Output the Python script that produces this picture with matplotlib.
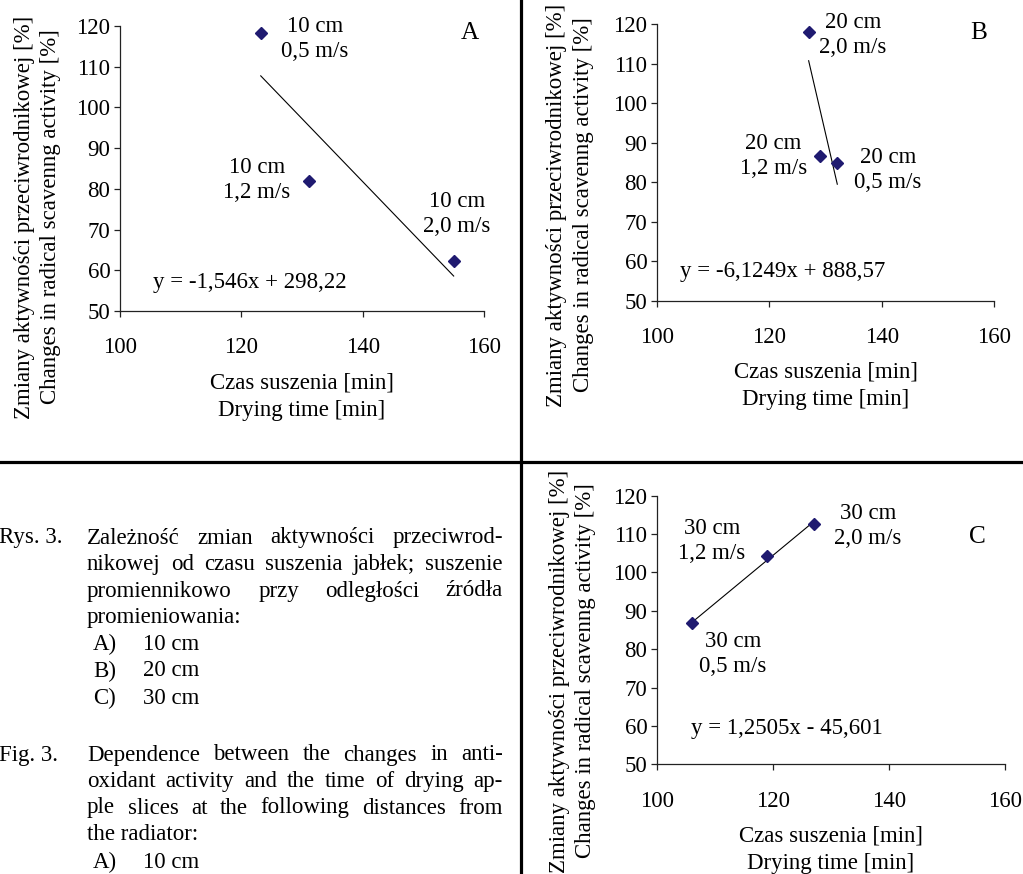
import numpy as np
import matplotlib
matplotlib.use("Agg")
import matplotlib.pyplot as plt

plt.rcParams['font.family'] = ['Liberation Serif', 'DejaVu Serif']
FS = 16.5

# data
time_a = [123.2, 131.2, 155.0]
act_a = [118.4, 81.9, 62.2]
lab_a = ["10 cm\n0,5 m/s", "10 cm\n1,2 m/s", "10 cm\n2,0 m/s"]
fit_a = (-1.546, 298.22)

time_b = [127.0, 129.0, 132.1]
act_b = [117.9, 86.5, 84.8]
lab_b = ["20 cm\n2,0 m/s", "20 cm\n1,2 m/s", "20 cm\n0,5 m/s"]
fit_b = (-6.1249, 888.57)

time_c = [106.0, 119.0, 127.0]
act_c = [86.7, 104.3, 112.7]
lab_c = ["30 cm\n0,5 m/s", "30 cm\n1,2 m/s", "30 cm\n2,0 m/s"]
fit_c = (1.2505, -45.601)

eq_a = "y = -1,546x + 298,22"
eq_b = "y = -6,1249x + 888,57"
eq_c = "y = 1,2505x - 45,601"

xticks = [100, 120, 140, 160]
yticks = [50, 60, 70, 80, 90, 100, 110, 120]

ylab = "Zmiany aktywności przeciwrodnikowej [%]\nChanges in radical scavenng activity [%]"
xlab = "Czas suszenia [min]\nDrying time [min]"

W, H = 1023, 874
fig = plt.figure(figsize=(W / 100, H / 100), dpi=100)


def px_axes(l, t, r, b):
    return fig.add_axes([l / W, 1 - b / H, (r - l) / W, (b - t) / H])


def panel(ax, x, y, fit, eq, labels, lab_pos, eq_pos, letter, letter_pos):
    ax.set_xlim(100, 160)
    ax.set_ylim(50, 120)
    ax.set_xticks(xticks)
    ax.set_yticks(yticks)
    for s in ['top', 'right']:
        ax.spines[s].set_visible(False)
    for s in ['left', 'bottom']:
        ax.spines[s].set_linewidth(0.9)
        ax.spines[s].set_color('#222222')
    ax.tick_params(axis='both', direction='out', length=4, width=0.9,
                   color='#222222', labelsize=FS)
    ax.tick_params(axis='x', pad=15)
    ax.tick_params(axis='y', pad=3)
    ax.patch.set_alpha(0)
    ax.plot(x, y, 'D', ms=6, color='#1f1a70', clip_on=False, zorder=3)
    xs = np.array([min(x), max(x)])
    ax.plot(xs, fit[0] * xs + fit[1], color='black', lw=0.8)
    for t, p in zip(labels, lab_pos):
        ax.text(p[0], p[1], t, fontsize=FS, ha='center', va='center',
                linespacing=1.25)
    ax.text(eq_pos[0], eq_pos[1], eq, fontsize=FS, ha='center', va='center')
    ax.text(letter_pos[0], letter_pos[1], letter, fontsize=FS * 1.1,
            ha='center', va='center')
    ax.set_xlabel(xlab, fontsize=FS, labelpad=10, linespacing=1.4)


ax_a = px_axes(120, 26, 484, 311)
panel(ax_a, time_a, act_a, fit_a, eq_a, lab_a,
      [(132.1, 116.7), (122.6, 82.2), (155.5, 73.8)], (121.4, 57.1),
      "A", (157.7, 118.3))

ax_b = px_axes(657, 24, 994, 300.7)
panel(ax_b, time_b, act_b, fit_b, eq_b, lab_b,
      [(134.9, 117.3), (120.7, 86.7), (141.1, 83.1)], (122.3, 57.5),
      "B", (157.3, 117.7))

ax_c = px_axes(657, 495.7, 1005, 764.3)
panel(ax_c, time_c, act_c, fit_c, eq_c, lab_c,
      [(113.1, 78.7), (109.5, 108.1), (136.4, 112.2)], (122.4, 59.2),
      "C", (155.3, 109.2))

for cx, cy in [(37.5, 217), (570, 205), (572.5, 671)]:
    fig.text(cx / W, 1 - cy / H, ylab, rotation=90, fontsize=FS,
             ha='center', va='center', multialignment='center',
             linespacing=1.35)

# divider lines
fig.add_artist(plt.Line2D([520.5 / W, 520.5 / W], [0, 1], color='black',
                          lw=2.3, transform=fig.transFigure))
fig.add_artist(plt.Line2D([0, 1], [1 - 461.7 / H, 1 - 461.7 / H],
                          color='black', lw=2.3, transform=fig.transFigure))

# caption (justified)
renderer = fig.canvas.get_renderer()
X0, X1 = 87, 503


def put_line(text, y, justify):
    words = text.split(' ')
    if not justify or len(words) == 1:
        fig.text(X0 / W, 1 - y / H, text, fontsize=FS, va='center', ha='left')
        return
    arts = [fig.text(0, 1 - y / H, w, fontsize=FS, va='center', ha='left')
            for w in words]
    widths = [a.get_window_extent(renderer).width for a in arts]
    gap = (X1 - X0 - sum(widths)) / (len(words) - 1)
    pos = X0
    for a, wd in zip(arts, widths):
        a.set_x(pos / W)
        pos += wd + gap


rys_lines = ["Zależność zmian aktywności przeciwrod-",
             "nikowej od czasu suszenia jabłek; suszenie",
             "promiennikowo przy odległości źródła",
             "promieniowania:"]
fig_lines = ["Dependence between the changes in anti-",
             "oxidant activity and the time of drying ap-",
             "ple slices at the following distances from",
             "the radiator:"]
items = [("A)", "10 cm"), ("B)", "20 cm"), ("C)", "30 cm")]

rys_y = [538, 564.5, 591, 617.5]
item_y = [644, 671, 698]
fig_y = [755, 781.5, 808, 834.5]

fig.text(-1 / W, 1 - rys_y[0] / H, "Rys. 3.", fontsize=FS, va='center')
for i, (t, y) in enumerate(zip(rys_lines, rys_y)):
    put_line(t, y, i < len(rys_lines) - 1)
for (k, v), y in zip(items, item_y):
    fig.text(93 / W, 1 - y / H, k, fontsize=FS, va='center')
    fig.text(143 / W, 1 - y / H, v, fontsize=FS, va='center')

fig.text(-1 / W, 1 - fig_y[0] / H, "Fig. 3.", fontsize=FS, va='center')
for i, (t, y) in enumerate(zip(fig_lines, fig_y)):
    put_line(t, y, i < len(fig_lines) - 1)
fig.text(93 / W, 1 - 862 / H, items[0][0], fontsize=FS, va='center')
fig.text(143 / W, 1 - 862 / H, items[0][1], fontsize=FS, va='center')

fig.savefig("out.png", dpi=100)
